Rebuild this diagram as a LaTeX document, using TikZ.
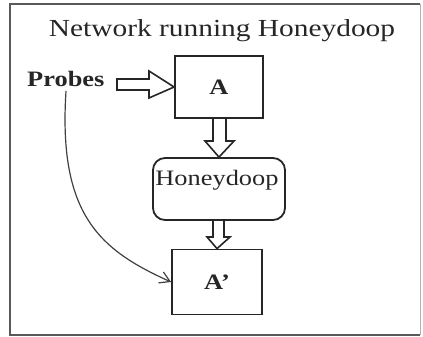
\documentclass[tikz,border=0pt]{standalone}
\usepackage{fontspec}
\setmainfont{Liberation Serif}
\usetikzlibrary{arrows.meta}
\tikzset{
  x=1pt, y=-1pt,
  frame/.style={draw=black!65, line width=2pt},
  boxA/.style={draw=black!85, line width=1.8pt, minimum width=88pt, minimum height=62pt, inner sep=0pt},
  hbox/.style={draw=black!85, line width=1.8pt, rounded corners=12pt, minimum width=132pt, minimum height=62pt, inner sep=0pt},
  blockarrow/.style={draw=black!85, line width=1.6pt, fill=white, line join=miter},
  lbl/.style={font=\fontsize{23}{26}\selectfont, text=black!85, inner sep=0pt},
  conn/.style={draw=black!75, line width=1.2pt, -{Straight Barb[length=10pt,width=12pt,line width=1.2pt]}}
}
\newcommand{\wide}[1]{\scalebox{1.2}[1]{#1}}
\begin{document}
\begin{tikzpicture}
\useasboundingbox (0,0) rectangle (423,337);
% outer frame
\draw[frame] (420,4) -- (10,4) -- (10,335) -- (420,335);
\draw[draw=black!30, line width=1pt] (420,4) -- (420,335);
% title
\node[lbl, font=\fontsize{24.5}{28}\selectfont] (title) at (222,31) {\wide{Network running Honeydoop}};
% nodes
\node[boxA] (A) at (219,87) {};
\node[lbl, font=\fontsize{22}{26}\selectfont\bfseries] (Alab) at (A.center) {\wide{A}};
\node[hbox] (H) at (219,189) {};
\node[lbl, font=\fontsize{22}{26}\selectfont] (Hlab) at (217,180) {\wide{Honeydoop}};
\node[boxA, minimum width=90pt, minimum height=65pt] (A2) at (217,282) {};
\node[lbl, font=\fontsize{22}{26}\selectfont\bfseries] (A2lab) at (A2.center) {\wide{A'}};
\node[lbl, font=\fontsize{22}{26}\selectfont\bfseries, anchor=base west] (P) at (27,87) {\wide{Probes}};
% block arrows
\draw[blockarrow] (117,79) -- (149,79) -- (149,71) -- (A.west) -- (149,98) -- (149,90) -- (117,90) -- cycle;
\draw[blockarrow] (213,118) -- (213,141) -- (205,141) -- (H.north) -- (234,141) -- (226,141) -- (226,118) -- cycle;
\draw[blockarrow] (213,220) -- (213,237) -- (207,237) -- (A2.north) -- (230,237) -- (224,237) -- (224,220) -- cycle;
% curved connector
\coordinate (ps) at (66,91);
\draw[conn] (ps) .. controls (58,215) and (100,250) .. (A2.west);
\end{tikzpicture}
\end{document}
